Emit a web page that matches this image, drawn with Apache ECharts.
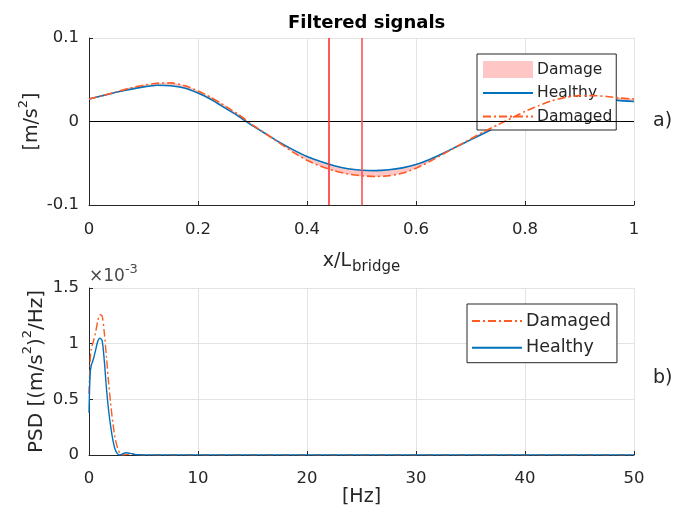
<!DOCTYPE html>
<html>
<head>
<meta charset="utf-8">
<script src="https://cdn.jsdelivr.net/npm/echarts@6/dist/echarts.min.js"></script>
<style>
html,body{margin:0;padding:0;background:#fff;}
#chart{width:673px;height:523px;}
</style>
</head>
<body>
<div id="chart"></div>
<script>
// ---- Top panel: filtered signals vs x/L_bridge ----
const xPos = [0, 0.025, 0.05, 0.075, 0.1, 0.125, 0.15, 0.175, 0.2, 0.225, 0.25, 0.275, 0.3, 0.325, 0.35, 0.375, 0.4, 0.425, 0.45, 0.475, 0.5, 0.525, 0.55, 0.575, 0.6, 0.625, 0.65, 0.675, 0.7, 0.725, 0.75, 0.775, 0.8, 0.825, 0.85, 0.875, 0.9, 0.925, 0.95, 0.975, 1.0];
const healthySig = [0.027, 0.031, 0.035, 0.0385, 0.0415, 0.0435, 0.0428, 0.040, 0.034, 0.026, 0.016, 0.006, -0.005, -0.015, -0.025, -0.034, -0.042, -0.048, -0.053, -0.0565, -0.0583, -0.0588, -0.0578, -0.0555, -0.0515, -0.0455, -0.038, -0.030, -0.022, -0.014, -0.006, 0.002, 0.010, 0.017, 0.023, 0.027, 0.029, 0.0285, 0.027, 0.025, 0.024];
const damagedSig = [0.027, 0.031, 0.0355, 0.040, 0.0435, 0.0458, 0.0462, 0.043, 0.0365, 0.0285, 0.0185, 0.008, -0.004, -0.015, -0.026, -0.037, -0.0465, -0.0535, -0.059, -0.0628, -0.065, -0.0658, -0.065, -0.062, -0.056, -0.048, -0.039, -0.030, -0.021, -0.012, -0.004, 0.004, 0.012, 0.019, 0.025, 0.029, 0.031, 0.031, 0.030, 0.028, 0.027];
const damageLocation = [0.444, 0.5];

// ---- Bottom panel: PSD (values in units of 1e-3) ----
const freq = [0, 0.1, 0.2, 0.4, 0.6, 0.8, 1.0, 1.2, 1.4, 1.6, 1.8, 2.0, 2.2, 2.4, 2.6, 2.8, 3.0, 3.4, 3.8, 4.2, 4.6, 5, 10, 20, 30, 40, 50];
const psdHealthy = [0.38, 0.72, 0.80, 0.86, 0.94, 1.02, 1.05, 1.03, 0.85, 0.60, 0.40, 0.25, 0.13, 0.05, 0.012, 0.0, 0.006, 0.02, 0.015, 0.005, 0.002, 0.001, 0.001, 0.001, 0.001, 0.001, 0.001];
const psdDamaged = [0.55, 0.82, 0.95, 1.02, 1.10, 1.20, 1.26, 1.25, 1.10, 0.88, 0.65, 0.45, 0.28, 0.15, 0.07, 0.02, 0.0, 0.003, 0.01, 0.008, 0.003, 0.001, 0.001, 0.001, 0.001, 0.001, 0.001];

const BLUE = '#0072BD';
const ORANGE = '#FF5A1F';
const PINK = '#ffc6c6';
const AXIS = '#262626';
const GRID = '#e3e3e3';
const FONT = 'DejaVu Sans';
const TICK_FS = 16.5;
const NAME_FS = 19;
const SUP_FS = 13;

const pair = (xs, ys) => xs.map((x, i) => [x, ys[i]]);
const bandData = xPos.map((x, i) => [x, healthySig[i], damagedSig[i]]);

function axisCommon(extra) {
  return Object.assign({
    type: 'value',
    nameMoveOverlap: false,
    axisLine: { show: true, onZero: false, lineStyle: { color: AXIS, width: 1 } },
    axisTick: { show: true, inside: true, length: 4, lineStyle: { color: AXIS } },
    splitLine: { show: true, lineStyle: { color: GRID, width: 1 } },
    axisLabel: { fontSize: TICK_FS, color: AXIS, fontFamily: FONT, margin: 10 },
    nameTextStyle: { fontSize: NAME_FS, color: AXIS, fontFamily: FONT }
  }, extra);
}
function supRich(fs) {
  return {
    a: { fontSize: fs, color: AXIS, fontFamily: FONT },
    p: { fontSize: SUP_FS, color: AXIS, fontFamily: FONT, padding: [0, 0, 18, 0] }
  };
}

const chart = echarts.init(document.getElementById('chart'));
chart.setOption({
  animation: false,
  backgroundColor: '#fff',
  title: {
    text: 'Filtered signals', left: 283, top: 9,
    textStyle: { fontSize: 18, fontWeight: 'bold', color: '#000', fontFamily: FONT }
  },
  grid: [
    { left: 89, top: 38, width: 545, height: 167 },
    { left: 89, top: 288, width: 545, height: 167 }
  ],
  xAxis: [
    axisCommon({
      gridIndex: 0, min: 0, max: 1, interval: 0.2,
      axisLabel: { fontSize: TICK_FS, color: AXIS, fontFamily: FONT, margin: 16 },
      name: '{a|x/L}{s|bridge}', nameLocation: 'middle', nameGap: 43,
      nameTextStyle: { fontFamily: FONT, color: AXIS,
        rich: { a: { fontSize: NAME_FS, color: AXIS, fontFamily: FONT },
                s: { fontSize: 15, color: AXIS, fontFamily: FONT, padding: [12, 0, 0, 1] } } }
    }),
    axisCommon({
      gridIndex: 1, min: 0, max: 50, interval: 10,
      axisLabel: { fontSize: TICK_FS, color: AXIS, fontFamily: FONT, margin: 15 },
      name: '[Hz]', nameLocation: 'middle', nameGap: 33
    })
  ],
  yAxis: [
    axisCommon({
      gridIndex: 0, min: -0.1, max: 0.1, interval: 0.1,
      name: '{a|[m/s}{p|2}{a|]}', nameLocation: 'middle', nameGap: 41, nameRotate: 90,
      nameTextStyle: { fontFamily: FONT, color: AXIS, rich: supRich(NAME_FS) }
    }),
    axisCommon({
      gridIndex: 1, min: 0, max: 1.5, interval: 0.5,
      name: '{a|PSD [(m/s}{p|2}{a|)}{p|2}{a|/Hz]}', nameLocation: 'middle', nameGap: 37, nameRotate: 90,
      nameTextStyle: { fontFamily: FONT, color: AXIS, rich: supRich(20) }
    })
  ],
  legend: [
    {
      orient: 'vertical', left: 477, top: 54,
      data: [
        { name: 'Damage', icon: 'rect', itemStyle: { color: PINK, opacity: 1 } },
        { name: 'Healthy' },
        { name: 'Damaged' }
      ],
      itemWidth: 50, itemHeight: 17, itemGap: 6.5,
      itemStyle: { opacity: 0 },
      padding: [7, 4, 5, 5],
      borderColor: AXIS, borderWidth: 1, borderRadius: 0, backgroundColor: '#fff',
      textStyle: { fontSize: 15.5, lineHeight: 17, color: AXIS, fontFamily: FONT, padding: [0, 0, 0, -1] },
      selectedMode: false
    },
    {
      orient: 'vertical', left: 467, top: 304,
      data: [{ name: 'Damaged' }, { name: 'Healthy' }],
      itemWidth: 50, itemHeight: 20, itemGap: 6.7,
      itemStyle: { opacity: 0 },
      padding: [7, 6, 5, 4],
      borderColor: AXIS, borderWidth: 1, borderRadius: 0, backgroundColor: '#fff',
      textStyle: { fontSize: 17.5, lineHeight: 20, color: AXIS, fontFamily: FONT, padding: [0, 0, 0, -1] },
      selectedMode: false
    }
  ],
  graphic: [
    { type: 'text', left: 653, top: 112, style: { text: 'a)', fontSize: 19, fill: AXIS, fontFamily: FONT } },
    { type: 'text', left: 653, top: 369, style: { text: 'b)', fontSize: 19, fill: AXIS, fontFamily: FONT } },
    { type: 'text', left: 89, top: 263, style: {
        text: '{a|×10}{p|-3}',
        rich: { a: { fontSize: 17, fill: '#4a4a4a', fontFamily: FONT },
                p: { fontSize: 13, fill: '#4a4a4a', fontFamily: FONT, padding: [0, 0, 14, 0] } } } }
  ],
  series: [
    {
      name: 'Damage', type: 'custom', xAxisIndex: 0, yAxisIndex: 0, data: bandData,
      encode: { x: 0, y: [1, 2] }, silent: true, z: 1,
      itemStyle: { color: PINK },
      renderItem: function (params, api) {
        const i = params.dataIndex;
        if (i === 0) return null;
        const xa = bandData[i - 1][0], xb = api.value(0);
        const p1 = api.coord([xa, bandData[i - 1][1]]);
        const p2 = api.coord([xb, api.value(1)]);
        const p3 = api.coord([xb, api.value(2)]);
        const p4 = api.coord([xa, bandData[i - 1][2]]);
        return {
          type: 'polygon',
          shape: { points: [p1, p2, p3, p4] },
          style: { fill: PINK, stroke: PINK, lineWidth: 0.6 }
        };
      }
    },
    {
      name: 'Healthy', type: 'line', xAxisIndex: 0, yAxisIndex: 0, data: pair(xPos, healthySig),
      symbol: 'none', smooth: 0.2, color: BLUE, lineStyle: { color: BLUE, width: 1.6 }, z: 3,
      markLine: {
        silent: true, symbol: 'none', label: { show: false },
        data: [
          { yAxis: 0, lineStyle: { color: '#000', width: 1, type: 'solid' } },
          { xAxis: damageLocation[0], lineStyle: { color: '#ff3030', width: 1.6, type: 'solid' } },
          { xAxis: damageLocation[1], lineStyle: { color: '#ff5050', width: 1.6, type: 'solid' } }
        ]
      }
    },
    {
      name: 'Damaged', type: 'line', xAxisIndex: 0, yAxisIndex: 0, data: pair(xPos, damagedSig),
      symbol: 'none', smooth: 0.2, color: ORANGE, lineStyle: { color: ORANGE, width: 1.6, type: [8, 3, 2, 3] }, z: 4
    },
    {
      name: 'Damaged', type: 'line', xAxisIndex: 1, yAxisIndex: 1, data: pair(freq, psdDamaged),
      symbol: 'none', smooth: 0.3, color: ORANGE, lineStyle: { color: ORANGE, width: 1.4, type: [8, 3, 2, 3] }, z: 3
    },
    {
      name: 'Healthy', type: 'line', xAxisIndex: 1, yAxisIndex: 1, data: pair(freq, psdHealthy),
      symbol: 'none', smooth: 0.3, color: BLUE, lineStyle: { color: BLUE, width: 1.4 }, z: 4
    }
  ]
});
</script>
</body>
</html>
